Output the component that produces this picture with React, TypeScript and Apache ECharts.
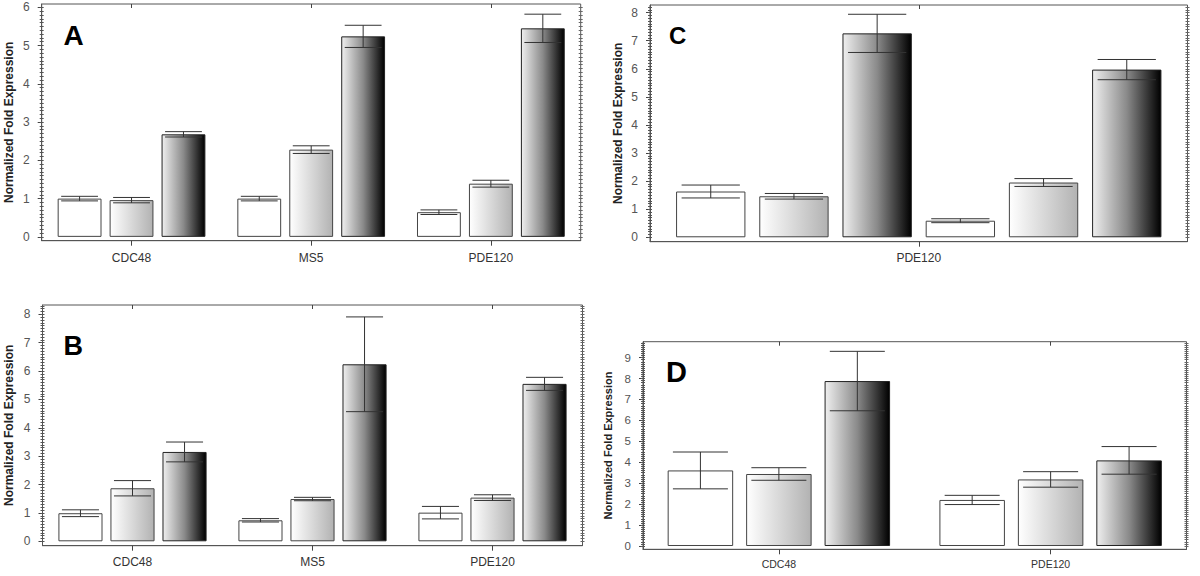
import React, { useEffect, useRef } from "react";
import * as echarts from "echarts";

const FONT = "'Liberation Sans', Arial, sans-serif";

// ---------- Panel A ----------
const categoriesA = ["CDC48", "MS5", "PDE120"];
const valuesA1 = [1.0, 1.0, 0.645];
const errorsA1 = [0.06, 0.06, 0.06];
const valuesA2 = [0.96, 2.28, 1.39];
const errorsA2 = [0.07, 0.1, 0.09];
const valuesA3 = [2.68, 5.24, 5.45];
const errorsA3 = [0.07, 0.29, 0.37];
const yTicksA = [0, 1, 2, 3, 4, 5, 6];

// ---------- Panel B ----------
const categoriesB = ["CDC48", "MS5", "PDE120"];
const valuesB1 = [0.99, 0.74, 1.01];
const errorsB1 = [0.12, 0.06, 0.22];
const valuesB2 = [1.87, 1.49, 1.54];
const errorsB2 = [0.27, 0.06, 0.1];
const valuesB3 = [3.15, 6.24, 5.55];
const errorsB3 = [0.35, 1.67, 0.23];
const yTicksB = [0, 1, 2, 3, 4, 5, 6, 7, 8];

// ---------- Panel C ----------
const categoriesC = ["PDE120"];
const valuesC = [[1.63], [1.46], [7.26], [0.59], [1.95], [5.97]];
const errorsC = [[0.23], [0.1], [0.68], [0.07], [0.14], [0.36]];
const yTicksC = [0, 1, 2, 3, 4, 5, 6, 7, 8];

// ---------- Panel D ----------
const categoriesD = ["CDC48", "PDE120"];
const valuesD1 = [3.61, 2.2];
const errorsD1 = [0.88, 0.22];
const valuesD2 = [3.44, 3.18];
const errorsD2 = [0.3, 0.37];
const valuesD3 = [7.88, 4.09];
const errorsD3 = [1.42, 0.66];
const yTicksD = [0, 1, 2, 3, 4, 5, 6, 7, 8, 9];

const panelLetters = ["A", "B", "C", "D"];
const yTitle = "Normalized Fold Expression";

const barStyles = [
  { color: "#ffffff", borderColor: "#444", borderWidth: 1 },
  {
    color: {
      type: "linear", x: 0, y: 0, x2: 1, y2: 0,
      colorStops: [
        { offset: 0, color: "#ffffff" },
        { offset: 1, color: "#b2b2b2" },
      ],
    },
    borderColor: "#444",
    borderWidth: 1,
  },
  {
    color: {
      type: "linear", x: 0, y: 0, x2: 1, y2: 0,
      colorStops: [
        { offset: 0, color: "#efefef" },
        { offset: 0.5, color: "#8a8a8a" },
        { offset: 1, color: "#000000" },
      ],
    },
    borderColor: "#222",
    borderWidth: 1,
  },
];

function minorTicks(max: number) {
  const out: number[] = [];
  const n = Math.floor(max * 10 + 1e-6);
  for (let i = 0; i <= n; i++) out.push(i / 10);
  return out;
}

type Panel = {
  cats: string[];
  values: number[][];
  errors: number[][];
  ticks: number[];
  yMin: number;
  yMax: number;
  grid: { left: number; top: number; width: number; height: number };
  barWidth: number; // fraction of band
  barGap: number; // fraction of bar width
  tickFont: number;
  xFont: number;
  titleFont: number;
  nameGap: number;
  xMargin: number;
  letter: { x: number; y: number; size: number };
};

const panels: Panel[] = [
  {
    cats: categoriesA,
    values: [valuesA1, valuesA2, valuesA3],
    errors: [errorsA1, errorsA2, errorsA3],
    ticks: yTicksA,
    yMin: -0.1,
    yMax: 6.086,
    grid: { left: 41.7, top: 4, width: 539, height: 236.7 },
    barWidth: 0.244,
    barGap: 0.185,
    tickFont: 12,
    xFont: 12,
    titleFont: 12,
    nameGap: 27,
    xMargin: 11,
    letter: { x: 63.4, y: 35, size: 28 },
  },
  {
    cats: categoriesB,
    values: [valuesB1, valuesB2, valuesB3],
    errors: [errorsB1, errorsB2, errorsB3],
    ticks: yTicksB,
    yMin: -0.155,
    yMax: 8.33,
    grid: { left: 42.5, top: 305, width: 540, height: 240.7 },
    barWidth: 0.245,
    barGap: 0.18,
    tickFont: 12,
    xFont: 12,
    titleFont: 12,
    nameGap: 27.5,
    xMargin: 10,
    letter: { x: 63.5, y: 346.4, size: 27 },
  },
  {
    cats: categoriesC,
    values: valuesC,
    errors: errorsC,
    ticks: yTicksC,
    yMin: -0.157,
    yMax: 8.27,
    grid: { left: 650, top: 5, width: 537.5, height: 236.7 },
    barWidth: 0.129,
    barGap: 0.2,
    tickFont: 12,
    xFont: 12,
    titleFont: 12,
    nameGap: 26,
    xMargin: 10,
    letter: { x: 669, y: 35, size: 24 },
  },
  {
    cats: categoriesD,
    values: [valuesD1, valuesD2, valuesD3],
    errors: [errorsD1, errorsD2, errorsD3],
    ticks: yTicksD,
    yMin: -0.158,
    yMax: 9.76,
    grid: { left: 643, top: 341.7, width: 543.5, height: 207.6 },
    barWidth: 0.241,
    barGap: 0.198,
    tickFont: 11.5,
    xFont: 10.5,
    titleFont: 11,
    nameGap: 30,
    xMargin: 9,
    letter: { x: 666, y: 372.3, size: 29 },
  },
];

function buildOption() {
  const grid: any[] = [];
  const xAxis: any[] = [];
  const yAxis: any[] = [];
  const series: any[] = [];
  const graphic: any[] = [];

  panels.forEach((p, pi) => {
    grid.push({
      left: p.grid.left,
      top: p.grid.top,
      width: p.grid.width,
      height: p.grid.height,
      containLabel: false,
      outerBoundsMode: "none",
      show: true,
      borderColor: "#555",
      borderWidth: 1,
      backgroundColor: "transparent",
    });
    // bottom category axis
    xAxis.push({
      type: "category",
      gridIndex: pi,
      position: "bottom",
      data: p.cats,
      axisLine: { show: true, onZero: false, lineStyle: { color: "#555", width: 1 } },
      axisTick: { show: true, alignWithLabel: true, length: 5, lineStyle: { color: "#444" } },
      axisLabel: { color: "#333", fontSize: p.xFont, fontFamily: FONT, margin: p.xMargin },
      splitLine: { show: false },
    });
    // top tick-only axis
    xAxis.push({
      type: "category",
      gridIndex: pi,
      position: "top",
      data: p.cats,
      axisLine: { show: false, onZero: false },
      axisTick: { show: true, inside: true, alignWithLabel: true, length: 4, lineStyle: { color: "#444" } },
      axisLabel: { show: false },
      splitLine: { show: false },
    });
    const minor = minorTicks(p.yMax);
    // left main axis
    yAxis.push({
      type: "value",
      gridIndex: pi,
      position: "left",
      min: p.yMin,
      max: p.yMax,
      name: yTitle,
      nameLocation: "middle",
      nameRotate: 90,
      nameGap: p.nameGap,
      nameTextStyle: { fontWeight: "bold", fontSize: p.titleFont, color: "#222", fontFamily: FONT },
      axisLine: { show: true, onZero: false, lineStyle: { color: "#555", width: 1 } },
      axisTick: { show: true, customValues: p.ticks, length: 4, lineStyle: { color: "#444" } },
      axisLabel: { customValues: p.ticks, color: "#555", fontSize: p.tickFont, fontFamily: FONT, margin: 12 },
      splitLine: { show: false },
    });
    // left minor crossing ticks
    yAxis.push({
      type: "value",
      gridIndex: pi,
      position: "left",
      offset: -2,
      min: p.yMin,
      max: p.yMax,
      axisLine: { show: false, onZero: false },
      axisTick: { show: true, customValues: minor, length: 4, lineStyle: { color: "#555" } },
      axisLabel: { show: false },
      splitLine: { show: false },
    });
    // right minor crossing ticks
    yAxis.push({
      type: "value",
      gridIndex: pi,
      position: "right",
      offset: -2,
      min: p.yMin,
      max: p.yMax,
      axisLine: { show: false, onZero: false },
      axisTick: { show: true, customValues: minor, length: 4, lineStyle: { color: "#666" } },
      axisLabel: { show: false },
      splitLine: { show: false },
    });

    const n = p.values.length;
    p.values.forEach((vals, k) => {
      series.push({
        type: "bar",
        xAxisIndex: pi * 2,
        yAxisIndex: pi * 3,
        data: vals,
        barWidth: (p.barWidth * 100).toFixed(2) + "%",
        barGap: (p.barGap * 100).toFixed(1) + "%",
        itemStyle: barStyles[k % 3],
        silent: true,
      });
    });
    p.values.forEach((vals, k) => {
      const errs = p.errors[k];
      series.push({
        type: "custom",
        xAxisIndex: pi * 2,
        yAxisIndex: pi * 3,
        z: 10,
        clip: false,
        silent: true,
        data: vals.map((v, i) => [i, v, errs[i]]),
        encode: { x: 0, y: 1 },
        renderItem: (params: any, api: any) => {
          const cat = api.value(0);
          const v = api.value(1);
          const e = api.value(2);
          const c = api.coord([cat, v]);
          const band = api.size([1, 0])[0];
          const bw = band * p.barWidth;
          const x = c[0] + (k - (n - 1) / 2) * bw * (1 + p.barGap);
          const yHi = api.coord([cat, v + e])[1];
          const yLo = api.coord([cat, v - e])[1];
          const hw = bw * 0.42;
          const st = { stroke: "#333", lineWidth: 1 };
          return {
            type: "group",
            children: [
              { type: "line", shape: { x1: x, y1: yHi, x2: x, y2: yLo }, style: st },
              { type: "line", shape: { x1: x - hw, y1: yHi, x2: x + hw, y2: yHi }, style: st },
              { type: "line", shape: { x1: x - hw, y1: yLo, x2: x + hw, y2: yLo }, style: st },
            ],
          };
        },
      });
    });

    graphic.push({
      type: "text",
      x: p.letter.x,
      y: p.letter.y,
      z: 20,
      style: {
        text: panelLetters[pi],
        font: `bold ${p.letter.size}px ${FONT}`,
        fill: "#000",
        textVerticalAlign: "middle",
        verticalAlign: "middle",
      },
    });
  });

  return {
    animation: false,
    backgroundColor: "#ffffff",
    grid,
    xAxis,
    yAxis,
    series,
    graphic,
  };
}

export default function App() {
  const ref = useRef<HTMLDivElement>(null);
  useEffect(() => {
    if (!ref.current) return;
    const chart = echarts.init(ref.current, null, { renderer: "svg" });
    chart.setOption(buildOption() as any);
    return () => chart.dispose();
  }, []);
  return (
    <div
      ref={ref}
      style={{ position: "fixed", left: 0, top: 0, width: 1200, height: 576, background: "#fff" }}
    />
  );
}
